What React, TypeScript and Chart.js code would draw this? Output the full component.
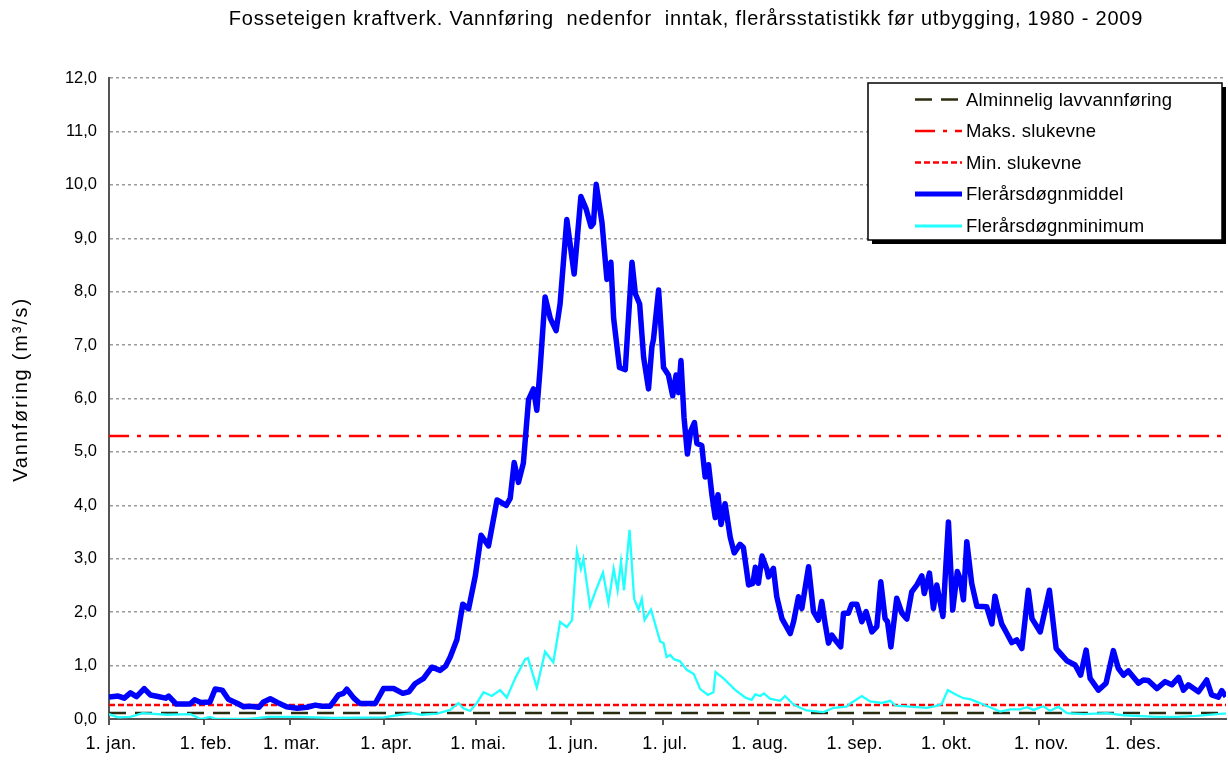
import { useEffect, useRef } from 'react';
import { Chart, registerables } from 'chart.js';

Chart.register(...registerables);

const TITLE = 'Fosseteigen kraftverk. Vannføring  nedenfor  inntak, flerårsstatistikk før utbygging, 1980 - 2009';
const Y_TITLE = 'Vannføring (m³/s)';

const monthStartDays = [0, 31, 59, 90, 120, 151, 181, 212, 243, 273, 304, 334];
const monthLabels = ['1. jan.', '1. feb.', '1. mar.', '1. apr.', '1. mai.', '1. jun.', '1. jul.', '1. aug.', '1. sep.', '1. okt.', '1. nov.', '1. des.'];

const meanDays = [
  0, 3, 5, 7, 9, 11.5, 13.5, 16, 18.5, 19.5, 22, 26.5, 28, 30, 33, 34.7, 37, 39, 42, 44, 46, 49, 50.5, 52.7, 55, 58, 61.5, 64.7, 67.4, 69.6, 72.3,
  75, 76.6, 77.7, 80, 82, 87, 89.7, 93, 96, 98, 100, 102.8, 105.5, 108.2, 110, 111.5, 113.7, 115.6, 117.5, 119.7, 121.6, 124, 126.8, 129.8,
  131.1, 132.4, 133.8, 135.4, 137.1, 138.7, 139.8, 140.9, 142.5, 144.2, 146.1, 147.4, 149.6, 152, 154.2, 155.9, 157.5, 158.3, 159.2, 161.1,
  162.7, 164, 164.9, 166.8, 168.7, 170.9, 172, 173.4, 174.7, 176.3, 177.4, 177.9, 179.6, 181.2, 182.8, 184.2, 185.3, 186.1, 186.9, 187.9,
  189, 190.1, 191.3, 192.1, 193.7, 194.8, 195.9, 197, 198.1, 199, 200, 201.3, 203, 204.3, 206.2, 207.3, 209, 210.4, 211.2, 212.2, 213.4,
  215, 215.5, 217.1, 218.2, 219.9, 222.6, 223.7, 225.3, 226.4, 228.6, 230.2, 231.8, 232.9, 234, 235.1, 236.2, 237.3, 239.1, 240, 241.6,
  242.7, 244.4, 246, 247.4, 249.3, 250.9, 252.2, 253.6, 254.4, 255.5, 257.4, 259.1, 260.7, 262.3, 264, 265.6, 266.4, 268.1, 269.4, 270.5,
  272.5, 274.3, 275.7, 277.2, 278.1, 279.2, 280.3, 281.9, 283.6, 286.8, 288.5, 289.5, 290.3, 291.7, 293.4, 295, 296.6, 298.3, 300.4, 301.6,
  304.3, 307.3, 309.5, 311.3, 313, 315.7, 317.5, 319.3, 320.6, 323.3, 325.8, 328.2, 329.8, 331.5, 333.1, 336.4, 338, 339.6, 342.4, 345.1,
  347.3, 349.5, 351.1, 352.7, 356, 358.7, 360.3, 362.5, 363.6, 365,
];
const meanValues = [
  0.41, 0.43, 0.39, 0.49, 0.42, 0.57, 0.45, 0.42, 0.39, 0.43, 0.28, 0.28, 0.36, 0.31, 0.32, 0.56, 0.54, 0.37, 0.29, 0.23, 0.24, 0.22, 0.32, 0.38, 0.31, 0.23, 0.2, 0.22, 0.26, 0.24, 0.24,
  0.45, 0.48, 0.56, 0.39, 0.29, 0.29, 0.57, 0.57, 0.48, 0.51, 0.66, 0.76, 0.97, 0.91, 0.99, 1.16, 1.49, 2.15, 2.06, 2.68, 3.44, 3.24, 4.1, 4.0,
  4.13, 4.8, 4.43, 4.79, 5.98, 6.18, 5.78, 6.58, 7.9, 7.5, 7.27, 7.77, 9.35, 8.33, 9.78, 9.55, 9.22, 9.28, 10.01, 9.29,
  8.23, 8.55, 7.5, 6.58, 6.54, 8.55, 7.96, 7.77, 6.77, 6.18, 6.97, 7.1, 8.03, 6.58, 6.44, 6.05, 6.44, 6.11, 6.71, 5.65,
  4.96, 5.39, 5.55, 5.16, 5.12, 4.53, 4.76, 4.2, 3.77, 4.2, 3.64, 4.03, 3.4, 3.11, 3.27, 3.21, 2.51, 2.54, 2.84, 2.54, 3.05,
  2.8, 2.66, 2.82, 2.29, 1.88, 1.6, 1.82, 2.29, 2.07, 2.85, 2.01, 1.85, 2.2, 1.79, 1.42, 1.57, 1.48, 1.35, 1.98, 1.98,
  2.15, 2.15, 1.82, 2.01, 1.63, 1.73, 2.57, 1.88, 1.82, 1.35, 2.26, 1.98, 1.87, 2.38, 2.51, 2.68, 2.35, 2.73, 2.07, 2.51,
  1.92, 3.69, 2.04, 2.76, 2.63, 2.23, 3.32, 2.54, 2.11, 2.1, 1.78, 2.3, 2.1, 1.78, 1.6, 1.43, 1.48, 1.32, 2.41, 1.88,
  1.63, 2.41, 1.32, 1.2, 1.09, 1.01, 0.82, 1.29, 0.76, 0.54, 0.67, 1.28, 0.95, 0.82, 0.9, 0.67, 0.73, 0.72, 0.57, 0.7,
  0.64, 0.78, 0.54, 0.64, 0.51, 0.73, 0.45, 0.41, 0.53, 0.42,
];

const minDays = [
  0, 3, 7, 11, 19, 26.6, 30, 33, 35, 46, 52, 62, 73, 90, 94, 99, 102, 107.2, 111.5, 114.2, 115.8, 118, 120.2, 122.4, 125.1, 127.8, 130,
  132.7, 136, 136.9, 139.8, 142.5, 145.2, 147.4, 149.6, 151.3, 152.9, 154.2, 155, 157.2, 158.9, 161.4, 163.2, 164.9, 166.2, 167.3, 168.3,
  170.1, 171.6, 173, 174.1, 175, 177.1, 180.1, 181.2, 182.2, 183.4, 184.6, 186.6, 188.8, 191.1, 193.2, 195.7, 197.5, 198.2, 201, 204.5,
  208, 210, 211.2, 212.8, 214, 216, 219.3, 220.9, 223.7, 226.2, 228, 233.5, 236.8, 241, 242.5, 246, 248.7, 252.5, 255.3, 257, 261.8,
  267.2, 270, 272.1, 274.1, 277, 279.2, 281.4, 283.6, 287.9, 291.2, 294.5, 297.8, 299.9, 302.1, 305.3, 307.5, 310.2, 313, 318.4, 326,
  331.5, 342.4, 349, 355.4, 364, 365,
];
const minValues = [
  0.09, 0.03, 0.04, 0.11, 0.08, 0.09, 0.0, 0.04, 0.0, 0.0, 0.04, 0.04, 0.02, 0.03, 0.07, 0.11, 0.08, 0.1, 0.17, 0.3, 0.2, 0.15, 0.3, 0.5, 0.43, 0.54, 0.4,
  0.76, 1.12, 1.14, 0.59, 1.26, 1.06, 1.82, 1.72, 1.85, 3.14, 2.81, 3.0, 2.11, 2.38, 2.74, 2.18, 2.81, 2.41, 2.94, 2.41,
  3.54, 2.25, 2.05, 2.25, 1.85, 2.05, 1.45, 1.42, 1.16, 1.2, 1.12, 1.08, 0.92, 0.84, 0.56, 0.45, 0.5, 0.88, 0.75, 0.55,
  0.4, 0.36, 0.46, 0.43, 0.48, 0.38, 0.34, 0.43, 0.27, 0.2, 0.16, 0.13, 0.21, 0.23, 0.3, 0.43, 0.33, 0.3, 0.34, 0.25, 0.23,
  0.21, 0.24, 0.28, 0.54, 0.45, 0.39, 0.37, 0.32, 0.22, 0.14, 0.18, 0.18, 0.22, 0.17, 0.24, 0.15, 0.23, 0.11, 0.09, 0.11,
  0.07, 0.04, 0.04, 0.06, 0.1, 0.1,
];

const lavvannforing = 0.11;
const maksSlukevne = 5.3;
const minSlukevne = 0.26;

const seriesLabels = ['Alminnelig lavvannføring', 'Maks. slukevne', 'Min. slukevne', 'Flerårsdøgnmiddel', 'Flerårsdøgnminimum'];

const FONT = '"Liberation Sans", Arial, sans-serif';

const flat = (v: number) => [{ x: 0, y: v }, { x: 365, y: v }];
const pts = (xs: number[], ys: number[]) => xs.map((x, i) => ({ x, y: ys[i] }));

const textPlugin = {
  id: 'customTexts',
  afterDraw(chart: any) {
    const { ctx, chartArea } = chart;
    const xScale = chart.scales.x;
    ctx.save();
    ctx.fillStyle = '#000';
    // title
    (ctx as any).letterSpacing = '0.8px';
    ctx.font = `20px ${FONT}`;
    ctx.textAlign = 'center';
    ctx.textBaseline = 'middle';
    ctx.fillText(TITLE, 686, 19);
    // x tick labels
    (ctx as any).letterSpacing = '0.3px';
    ctx.font = `18px ${FONT}`;
    ctx.textBaseline = 'top';
    monthStartDays.forEach((d, i) => {
      ctx.fillText(monthLabels[i], xScale.getPixelForValue(d) + 2, chartArea.bottom + 16);
    });
    // y title
    (ctx as any).letterSpacing = '1.8px';
    ctx.font = `20px ${FONT}`;
    ctx.translate(21, (chartArea.top + chartArea.bottom) / 2 - 9);
    ctx.rotate(-Math.PI / 2);
    ctx.textBaseline = 'middle';
    ctx.fillText(Y_TITLE, 0, 0);
    ctx.restore();
  },
};

const legendPlugin = {
  id: 'customLegend',
  afterDraw(chart: any) {
    const { ctx } = chart;
    const left = 868, top = 83, w = 354, h = 157;
    ctx.save();
    ctx.fillStyle = '#000';
    ctx.fillRect(left + 4, top + 4, w, h);
    ctx.fillStyle = '#fff';
    ctx.fillRect(left, top, w, h);
    ctx.strokeStyle = '#000';
    ctx.lineWidth = 1.5;
    ctx.strokeRect(left, top, w, h);
    const rowY = [99.5, 131, 162.5, 194, 226];
    chart.data.datasets.forEach((ds: any, i: number) => {
      const y = rowY[i];
      ctx.beginPath();
      ctx.setLineDash(ds.borderDash || []);
      ctx.lineDashOffset = 0;
      ctx.strokeStyle = ds.borderColor;
      ctx.lineWidth = ds.legendWidth || ds.borderWidth;
      ctx.lineCap = 'butt';
      ctx.moveTo(915, y);
      ctx.lineTo(962, y);
      ctx.stroke();
      ctx.setLineDash([]);
      ctx.fillStyle = '#000';
      (ctx as any).letterSpacing = '0.2px';
      ctx.font = `18.5px ${FONT}`;
      ctx.textAlign = 'left';
      ctx.textBaseline = 'middle';
      ctx.fillText(ds.label, 966, y + 1);
      (ctx as any).letterSpacing = '0px';
    });
    ctx.restore();
  },
};

export default function App() {
  const ref = useRef<HTMLCanvasElement | null>(null);
  useEffect(() => {
    if (!ref.current) return;
    const chart = new Chart(ref.current, {
      type: 'line',
      data: {
        datasets: [
          { label: seriesLabels[0], data: flat(lavvannforing), borderColor: '#2b2b10', borderWidth: 2.5, borderDash: [17, 9], pointRadius: 0, order: 3 },
          { label: seriesLabels[1], data: flat(maksSlukevne), borderColor: '#ff0000', borderWidth: 2.5, borderDash: [20, 8, 4, 8], pointRadius: 0, order: 4 },
          { label: seriesLabels[2], data: flat(minSlukevne), borderColor: '#ff0000', borderWidth: 2.5, borderDash: [6, 3], pointRadius: 0, order: 5 },
          { label: seriesLabels[3], data: pts(meanDays, meanValues), borderColor: '#0000ff', borderWidth: 5.5, legendWidth: 5, pointRadius: 0, tension: 0, borderJoinStyle: 'round', order: 1 } as any,
          { label: seriesLabels[4], data: pts(minDays, minValues), borderColor: '#22ffff', borderWidth: 2.3, legendWidth: 3, pointRadius: 0, tension: 0, order: 2 } as any,
        ],
      },
      options: {
        responsive: false,
        animation: false,
        layout: { padding: { top: 78, right: 2, left: 0, bottom: 0 } },
        plugins: { legend: { display: false }, title: { display: false }, tooltip: { enabled: false } },
        scales: {
          x: {
            type: 'linear',
            min: 0,
            max: 365,
            afterBuildTicks: (scale: any) => {
              scale.ticks = monthStartDays.map((v) => ({ value: v }));
            },
            afterFit: (scale: any) => {
              scale.height = 46;
            },
            ticks: { display: false, autoSkip: false },
            grid: { drawOnChartArea: false, drawTicks: true, tickLength: 6, color: '#555', lineWidth: 2 },
            border: { display: true, color: '#555', width: 2 },
          },
          y: {
            min: 0,
            max: 12,
            afterFit: (scale: any) => {
              scale.width = 109;
            },
            ticks: {
              stepSize: 1,
              padding: 12,
              color: '#000',
              font: { family: FONT, size: 16.5 },
              callback: (v: any) => Number(v).toFixed(1).replace('.', ','),
            },
            grid: { color: '#9a9a9a', lineWidth: 1.5, drawTicks: false },
            border: { display: true, color: '#555', width: 2, dash: [3, 3] },
          },
        },
      },
      plugins: [textPlugin, legendPlugin],
    });
    return () => chart.destroy();
  }, []);
  return (
    <div style={{ position: 'absolute', left: 0, top: 0, width: 1228, height: 765, background: '#fff' }}>
      <canvas ref={ref} width={1228} height={765} />
    </div>
  );
}
